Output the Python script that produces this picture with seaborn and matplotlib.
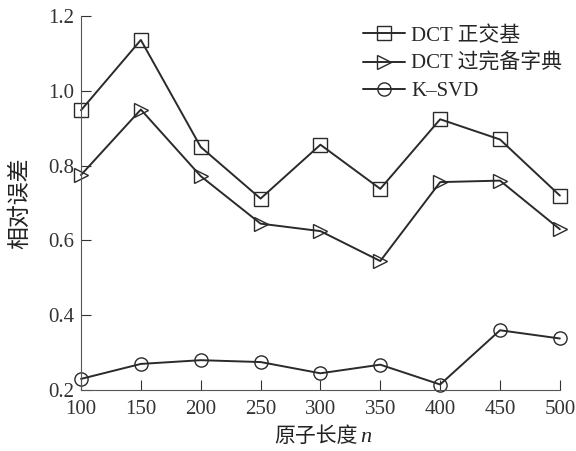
import pandas as pd
import matplotlib.pyplot as plt
import seaborn as sns

n_values = [100, 150, 200, 250, 300, 350, 400, 450, 500]
dct_orth = [0.948, 1.136, 0.850, 0.712, 0.856, 0.738, 0.924, 0.870, 0.720]
dct_over = [0.775, 0.950, 0.772, 0.645, 0.625, 0.545, 0.756, 0.760, 0.630]
ksvd = [0.230, 0.270, 0.280, 0.275, 0.245, 0.268, 0.215, 0.360, 0.338]
series_names = ['DCT 正交基', 'DCT 过完备字典', 'K\u2013SVD']

df = pd.DataFrame({
    'n': n_values * 3,
    'err': dct_orth + dct_over + ksvd,
    'method': [series_names[0]] * 9 + [series_names[1]] * 9 + [series_names[2]] * 9,
})

sns.set_style("ticks")
plt.rcParams['font.family'] = ['Liberation Serif', 'Noto Sans CJK SC']

fig = plt.figure(figsize=(5.76, 4.51), dpi=100)
ax = fig.add_axes([0.1406, 0.135, 0.8314, 0.8295])

markers = {series_names[0]: 's', series_names[1]: '>', series_names[2]: 'o'}
for name in series_names:
    sub = df[df['method'] == name]
    sns.lineplot(x='n', y='err', data=sub, ax=ax, color='#2a2a2a', linewidth=1.4,
                 marker=markers[name], markersize=9.5, markerfacecolor='none',
                 markeredgecolor='#2a2a2a', markeredgewidth=1.0, label=name)

ax.set_xlim(100, 500)
ax.set_ylim(0.2, 1.2)
ax.set_xticks(n_values)
ax.set_yticks([0.2, 0.4, 0.6, 0.8, 1.0, 1.2])
ax.set_yticklabels(['0.2', '0.4', '0.6', '0.8', '1.0', '1.2'])
ax.tick_params(direction='in', length=7, width=0.8, labelsize=15, colors='#333333')
ax.tick_params(axis='x', pad=7)
ax.tick_params(axis='y', pad=5)
for side in ['top', 'right']:
    ax.spines[side].set_visible(False)
for side in ['left', 'bottom']:
    ax.spines[side].set_color('#555555')
    ax.spines[side].set_linewidth(0.8)
for line in ax.lines:
    line.set_clip_on(False)

xl = ax.set_xlabel('原子长度', fontsize=15, labelpad=6, color='#222222')
ax.xaxis.label.set_x(0.49)
ax.annotate('n', xy=(1, 0), xycoords=xl, xytext=(2, 0), textcoords='offset points',
            fontsize=16, fontstyle='italic', color='#222222', va='bottom', ha='left')
ax.set_ylabel('相对误差', fontsize=16.5, labelpad=12, color='#222222')

ax.legend(loc='upper right', bbox_to_anchor=(1.035, 1.012), frameon=False, fontsize=15,
          handlelength=2.0, handletextpad=0.3, labelspacing=0.38, borderaxespad=0.3)

fig.savefig('out.png', dpi=100)
